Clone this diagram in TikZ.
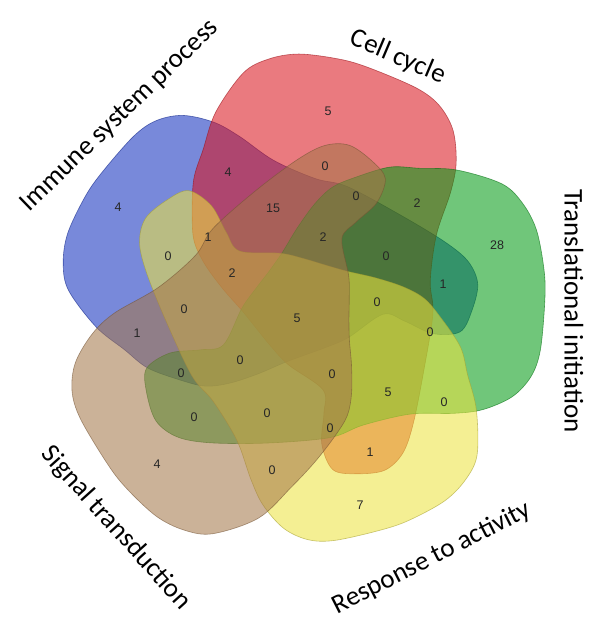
\documentclass[tikz,border=0pt]{standalone}
\usepackage{fontspec}
\setmainfont{Carlito}
\newfontfamily\numfont{Liberation Sans}
\definecolor{cB}{RGB}{15,45,190}
\definecolor{cR}{RGB}{218,19,28}
\definecolor{cG}{RGB}{0,155,19}
\definecolor{cY}{RGB}{237,228,64}
\definecolor{cS}{RGB}{164,118,73}
\tikzset{
  setfill/.style={fill=#1, draw=#1!70!black, fill opacity=0.56, draw opacity=0.6, line width=0.6pt},
  num/.style={font=\numfont\fontsize{12.5}{13}\selectfont, text=black!85, inner sep=0pt},
  setlabel/.style={font=\fontsize{27}{30}\selectfont, text=black, inner sep=0pt}
}
% #1 colour, #2 rotation, #3 arm shift, #4 arm scale, #5 blob scale, #6 centre
\newcommand\vennset[6]{%
  \def\VO{#2}\def\VA{#3}\def\VS{#4}\def\VB{#5}%
  \path[setfill=#1, shift={#6}] plot[smooth cycle, tension=0.55] coordinates {
    ({\VO-57.5}:{167*\VS})
    ({\VO-49.4}:{184*(\VS+\VB)/2})
    ({\VO-41.3}:{209*\VB})
    ({\VO-31.6}:{237*\VB})
    ({\VO-25.2}:{246*\VB})
    ({\VO-18.2}:{249*\VB})
    ({\VO-8.9}:{247*\VB})
    ({\VO-1.9}:{245*\VB})
    ({\VO+9.9}:{244*\VB})
    ({\VO+16.5}:{241*\VB})
    ({\VO+22.7}:{230*\VB})
    ({\VO+29.1}:{209*\VB})
    ({\VO+34.5}:{186*\VB})
    ({\VO+43.9}:{153*(\VS+\VB)/2})
    ({\VO+61.7+0.17*(\VA)}:{133*\VS})
    ({\VO+77+0.31*(\VA)}:{133*\VS})
    ({\VO+103.7+0.56*(\VA)}:{139*\VS})
    ({\VO+123.7+0.75*(\VA)}:{162*\VS})
    ({\VO+133.6+0.85*(\VA)}:{178*\VS})
    ({\VO+141.9+0.92*(\VA)}:{183*\VS})
    ({\VO+151.3+(\VA)}:{175*\VS})
    ({\VO+158.5+(\VA)}:{165*\VS})
    ({\VO+160.9+(\VA)}:{138*\VS})
    ({\VO+157.2+(\VA)}:{108*\VS})
    ({\VO+154.3+(\VA)}:{85*\VS})
    ({\VO+180+0.82*(\VA)}:{58*\VS})
    ({\VO+205+0.65*(\VA)}:{48*\VS})
    ({\VO+230+0.48*(\VA)}:{48*\VS})
    ({\VO+252+0.33*(\VA)}:{58*\VS})
    ({\VO+268+0.22*(\VA)}:{80*\VS})
    ({\VO+278+0.15*(\VA)}:{105*\VS})
    ({\VO+285+0.1*(\VA)}:{125*\VS})
    ({\VO+293+0.05*(\VA)}:{142*\VS})
  };
}
\begin{document}
\begin{tikzpicture}[x=1pt,y=-1pt]
\useasboundingbox (0,0) rectangle (598,619);
\fill[white] (0,0) rectangle (598,619);
\vennset{cB}{-144}{-6}{0.98}{0.98}{(300,308)}
\vennset{cR}{-72}{-8}{1.0}{1.02}{(300,308)}
\vennset{cG}{0}{0}{1.0}{1.0}{(300,308)}
\vennset{cY}{72}{-5}{0.98}{0.97}{(302,306)}
\vennset{cS}{144}{-1}{0.92}{1.03}{(306,308)}
% numbers
\node[num] (n01) at (328,111) {5};
\node[num] (n02) at (118,207) {4};
\node[num] (n03) at (228,172) {4};
\node[num] (n04) at (325,166) {0};
\node[num] (n05) at (273,208) {15};
\node[num] (n06) at (356,196) {0};
\node[num] (n07) at (417,203) {2};
\node[num] (n08) at (208,237) {1};
\node[num] (n09) at (168,256) {0};
\node[num] (n10) at (323,237) {2};
\node[num] (n11) at (497,245) {28};
\node[num] (n12) at (386,256) {0};
\node[num] (n13) at (232,273) {2};
\node[num] (n14) at (443,284) {1};
\node[num] (n15) at (184,309) {0};
\node[num] (n16) at (297,318) {5};
\node[num] (n17) at (377,302) {0};
\node[num] (n18) at (430,332) {0};
\node[num] (n19) at (137,333) {1};
\node[num] (n20) at (240,360) {0};
\node[num] (n21) at (181,373) {0};
\node[num] (n22) at (332,374) {0};
\node[num] (n23) at (388,392) {5};
\node[num] (n24) at (444,402) {0};
\node[num] (n25) at (194,417) {0};
\node[num] (n26) at (267,413) {0};
\node[num] (n27) at (330,428) {0};
\node[num] (n28) at (370,452) {1};
\node[num] (n29) at (157,464) {4};
\node[num] (n30) at (272,470) {0};
\node[num] (n31) at (360,505) {7};
% labels
\node[setlabel, rotate=44] (lB) at (120,116) {Immune system process};
\node[setlabel, rotate=-23] (lR) at (398,57) {Cell cycle};
\node[setlabel, rotate=-90] (lG) at (574,311) {Translational initiation};
\node[setlabel, rotate=27] (lY) at (432,558) {Response to activity};
\node[setlabel, rotate=-48] (lS) at (116,528) {Signal transduction};
\end{tikzpicture}
\end{document}
